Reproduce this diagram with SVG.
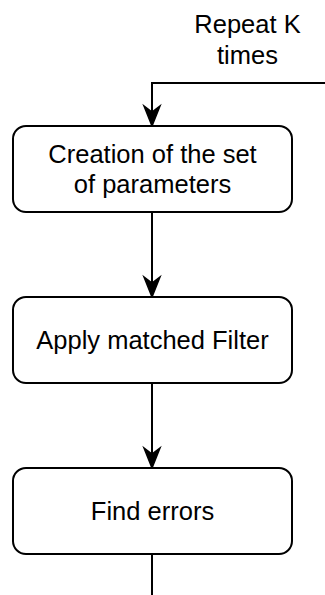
<svg xmlns="http://www.w3.org/2000/svg" width="325" height="595" viewBox="0 0 325 595">
<defs>
<style>
.box{fill:#fff;stroke:#000;stroke-width:2}
.edge{fill:none;stroke:#000;stroke-width:2}
.head{fill:#000;stroke:#000;stroke-width:1.5;stroke-linejoin:miter}
text{font-family:"Liberation Sans",Arial,sans-serif;font-size:25.5px;fill:#000;text-anchor:middle}
</style>
</defs>
<rect width="325" height="595" fill="#fff"/>
<g id="connectors">
<path class="edge" d="M325 83 H152 V120"/>
<polygon class="head" points="152,126 144,106 152,112 160,106"/>
<path class="edge" d="M152 212 V291"/>
<polygon class="head" points="152,297 144,277 152,283 160,277"/>
<path class="edge" d="M152 383 V462"/>
<polygon class="head" points="152,468 144,448 152,454 160,448"/>
<path class="edge" d="M152 554 V595"/>
</g>
<g id="label-repeat">
<text x="247.5" y="33">Repeat K</text>
<text x="247.5" y="64">times</text>
</g>
<g id="node-creation">
<rect class="box" x="13" y="126" width="279" height="86" rx="13"/>
<text x="152.5" y="163">Creation of the set</text>
<text x="152.5" y="193">of parameters</text>
</g>
<g id="node-filter">
<rect class="box" x="13" y="297" width="279" height="86" rx="13"/>
<text x="152.5" y="349">Apply matched Filter</text>
</g>
<g id="node-errors">
<rect class="box" x="13" y="468" width="279" height="86" rx="13"/>
<text x="152.5" y="520">Find errors</text>
</g>
</svg>
